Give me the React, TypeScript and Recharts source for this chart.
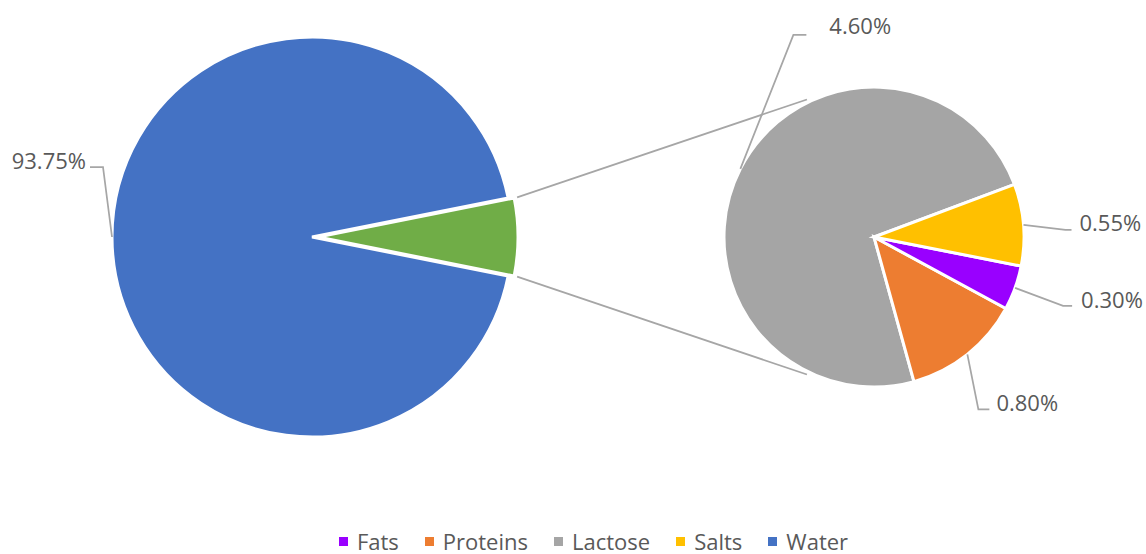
import { PieChart, Pie, Cell, Legend } from "recharts";

const mainNames = ["Water", "Other"];
const mainValues = [93.75, 6.25];
const detailNames = ["Lactose", "Proteins", "Fats", "Salts"];
const detailValues = [4.6, 0.8, 0.3, 0.55];
const legendNames = ["Fats", "Proteins", "Lactose", "Salts", "Water"];

const COLORS: Record<string, string> = {
  Water: "#4472C4",
  Other: "#70AD47",
  Lactose: "#A5A5A5",
  Proteins: "#ED7D31",
  Fats: "#9900FF",
  Salts: "#FFC000",
};

const FONT = "'Open Sans', sans-serif";
const TEXT = "#595959";
const LINE = "#A6A6A6";
const RAD = Math.PI / 180;

const BIG = { cx: 312, cy: 237, r: 200, explode: 6 };
const SMALL = { cx: 874, cy: 237, r: 150, start: 20.5 };

// leader line layout per label: elbow offset from the slice edge, tail length, text gap
const labelLayout: Record<string, { dx: number; dy: number; tail: number; ty: number; gap: number }> = {
  Water: { dx: -9, dy: -70, tail: -13, ty: -7, gap: 4 },
  Lactose: { dx: 53, dy: -134, tail: 13, ty: -10, gap: 23 },
  Salts: { dx: 42, dy: 5, tail: 6, ty: -8, gap: 8 },
  Fats: { dx: 48, dy: 18, tail: 9, ty: -7, gap: 9 },
  Proteins: { dx: 11, dy: 55, tail: 11, ty: -7, gap: 7 },
};

const mainTotal = mainValues.reduce((a, b) => a + b, 0);
const otherHalf = ((mainValues[1] / mainTotal) * 360) / 2;

const waterData = [{ name: mainNames[0], value: mainValues[0] }];
const otherData = [{ name: mainNames[1], value: mainValues[1] }];
const detailData = detailNames.map((name, i) => ({ name, value: detailValues[i] }));

function renderLabel(props: any) {
  const { cx, cy, midAngle, outerRadius, name, value } = props;
  const lay = labelLayout[name];
  if (!lay) return null;
  const ex = cx + outerRadius * Math.cos(-midAngle * RAD);
  const ey = cy + outerRadius * Math.sin(-midAngle * RAD);
  const bx = ex + lay.dx;
  const by = ey + lay.dy;
  const tx = bx + lay.tail;
  const right = lay.tail > 0;
  return (
    <g>
      <polyline points={`${ex},${ey} ${bx},${by} ${tx},${by}`} fill="none" stroke={LINE} strokeWidth={1.75} />
      <text
        x={right ? tx + lay.gap : tx - lay.gap}
        y={by + lay.ty}
        textAnchor={right ? "start" : "end"}
        dominantBaseline="central"
        fill={TEXT}
        fontSize={22}
        fontFamily={FONT}
      >
        {`${Number(value).toFixed(2)}%`}
      </text>
    </g>
  );
}

function renderConnectors(props: any) {
  const { cx, cy, outerRadius, startAngle, endAngle } = props;
  const r = outerRadius + 3;
  const ends = [endAngle, startAngle].map((a: number, i: number) => {
    const target = i === 0 ? 116 : -116;
    return {
      x1: cx + r * Math.cos(-a * RAD),
      y1: cy + r * Math.sin(-a * RAD),
      x2: SMALL.cx + (SMALL.r + 3) * Math.cos(-target * RAD),
      y2: SMALL.cy + (SMALL.r + 3) * Math.sin(-target * RAD),
    };
  });
  return (
    <g>
      {ends.map((l, i) => (
        <line key={i} {...l} stroke={LINE} strokeWidth={1.75} />
      ))}
    </g>
  );
}

function LegendBox() {
  return (
    <div
      style={{
        display: "flex",
        justifyContent: "center",
        gap: 26,
        fontFamily: FONT,
        fontSize: 22,
        lineHeight: "20px",
        color: TEXT,
        paddingLeft: 41,
      }}
    >
      {legendNames.map((n) => (
        <div key={n} style={{ display: "flex", alignItems: "center" }}>
          <span style={{ width: 9, height: 9, background: COLORS[n], marginRight: 9, display: "inline-block" }} />
          <span>{n}</span>
        </div>
      ))}
    </div>
  );
}

export default function App() {
  return (
    <div style={{ position: "absolute", left: 0, top: 0, width: 1146, height: 554, background: "#fff" }}>
      <PieChart width={1146} height={554} margin={{ top: 0, right: 0, bottom: 0, left: 0 }}>
        <Pie
          data={waterData}
          dataKey="value"
          cx={BIG.cx}
          cy={BIG.cy}
          outerRadius={BIG.r}
          startAngle={otherHalf}
          endAngle={360 - otherHalf}
          stroke="#fff"
          strokeWidth={3}
          label={renderLabel}
          labelLine={false}
          isAnimationActive={false}
        >
          {waterData.map((d) => (
            <Cell key={d.name} fill={COLORS[d.name]} />
          ))}
        </Pie>
        <Pie
          data={otherData}
          dataKey="value"
          cx={BIG.cx + BIG.explode}
          cy={BIG.cy}
          outerRadius={BIG.r}
          startAngle={-otherHalf}
          endAngle={otherHalf}
          stroke="#fff"
          strokeWidth={3}
          label={renderConnectors}
          labelLine={false}
          isAnimationActive={false}
        >
          {otherData.map((d) => (
            <Cell key={d.name} fill={COLORS[d.name]} />
          ))}
        </Pie>
        <Pie
          data={detailData}
          dataKey="value"
          cx={SMALL.cx}
          cy={SMALL.cy}
          outerRadius={SMALL.r}
          startAngle={SMALL.start}
          endAngle={SMALL.start + 360}
          stroke="#fff"
          strokeWidth={3}
          label={renderLabel}
          labelLine={false}
          isAnimationActive={false}
        >
          {detailData.map((d) => (
            <Cell key={d.name} fill={COLORS[d.name]} />
          ))}
        </Pie>
        <Legend content={() => <LegendBox />} wrapperStyle={{ left: 0, top: 531, width: 1146, bottom: "auto" }} />
      </PieChart>
    </div>
  );
}
